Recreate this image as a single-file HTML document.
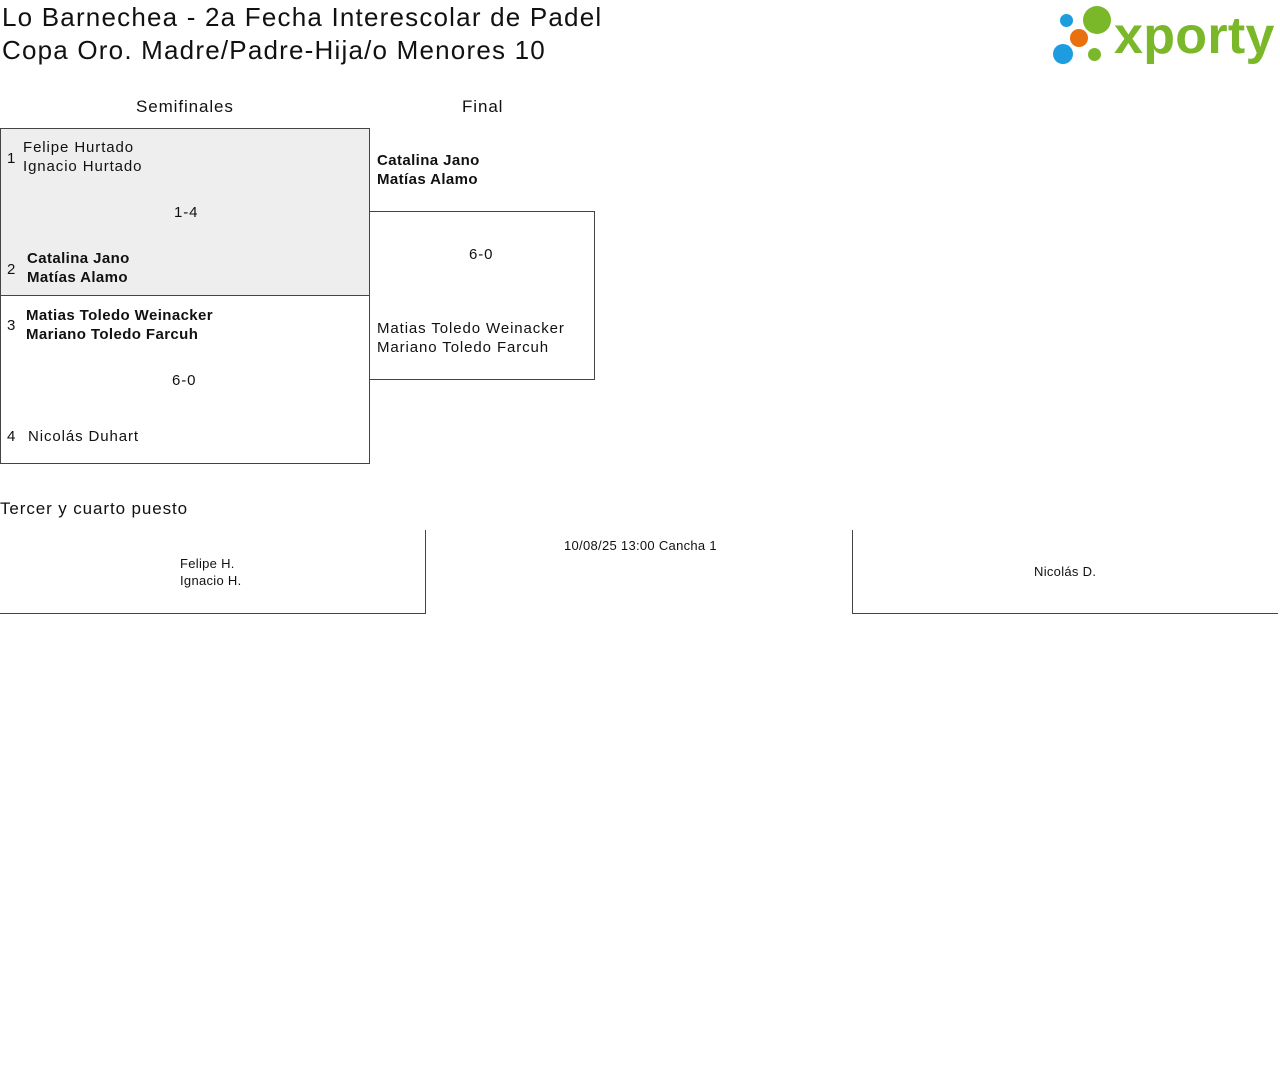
<!DOCTYPE html>
<html><head><meta charset="utf-8"><style>
body{margin:0;width:1280px;height:1078px;background:#fff;font-family:"Liberation Sans",sans-serif;color:#111;position:relative;overflow:hidden}
div{position:absolute;box-sizing:border-box}
.t{font-size:26px;letter-spacing:1.2px;line-height:33px}
.h{font-size:17px;letter-spacing:0.9px}
.n{font-size:15px;line-height:19px;letter-spacing:0.9px}
.b{font-weight:bold;letter-spacing:0.4px}
.s{font-size:13px;letter-spacing:0.3px}
</style></head><body>
<div class="t" style="left:2px;top:1px;white-space:nowrap">Lo Barnechea - 2a Fecha Interescolar de Padel<br>Copa Oro. Madre/Padre-Hija/o Menores 10</div>
<div style="left:1060px;top:14px;width:13px;height:13px;border-radius:50%;background:#1d9de0"></div>
<div style="left:1083px;top:6px;width:28px;height:28px;border-radius:50%;background:#7ab82a"></div>
<div style="left:1070px;top:29px;width:18px;height:18px;border-radius:50%;background:#e8700e"></div>
<div style="left:1053px;top:44px;width:20px;height:20px;border-radius:50%;background:#1d9de0"></div>
<div style="left:1088px;top:48px;width:13px;height:13px;border-radius:50%;background:#7ab82a"></div>
<div style="left:1114px;top:6px;font-size:52px;font-weight:bold;color:#7ab82a;letter-spacing:0.3px;line-height:60px">xporty</div>

<div class="h" style="left:136px;top:97px">Semifinales</div>
<div class="h" style="left:462px;top:97px">Final</div>

<div style="left:0;top:128px;width:370px;height:168px;background:#eee;border:1px solid #444"></div>
<div style="left:0;top:295px;width:370px;height:169px;border:1px solid #444"></div>
<div class="n" style="left:7px;top:149px">1</div>
<div class="n" style="left:23px;top:138px">Felipe Hurtado<br>Ignacio Hurtado</div>
<div class="n" style="left:174px;top:203px">1-4</div>
<div class="n" style="left:7px;top:260px">2</div>
<div class="n b" style="left:27px;top:249px">Catalina Jano<br>Matías Alamo</div>
<div class="n" style="left:7px;top:316px">3</div>
<div class="n b" style="left:26px;top:306px">Matias Toledo Weinacker<br>Mariano Toledo Farcuh</div>
<div class="n" style="left:172px;top:371px">6-0</div>
<div class="n" style="left:7px;top:427px">4</div>
<div class="n" style="left:28px;top:427px">Nicolás Duhart</div>

<div class="n b" style="left:377px;top:151px">Catalina Jano<br>Matías Alamo</div>
<div style="left:369px;top:211px;width:226px;height:169px;border:1px solid #444;border-left:none"></div>
<div class="n" style="left:469px;top:245px">6-0</div>
<div class="n" style="left:377px;top:319px">Matias Toledo Weinacker<br>Mariano Toledo Farcuh</div>

<div class="h" style="left:0;top:499px">Tercer y cuarto puesto</div>
<div style="left:0;top:530px;width:426px;height:84px;border-right:1px solid #444;border-bottom:1px solid #444"></div>
<div style="left:852px;top:530px;width:426px;height:84px;border-left:1px solid #444;border-bottom:1px solid #444"></div>
<div class="s" style="left:180px;top:555px;line-height:17px">Felipe H.<br>Ignacio H.</div>
<div class="s" style="left:564px;top:538px">10/08/25 13:00 Cancha 1</div>
<div class="s" style="left:1034px;top:564px">Nicolás D.</div>
</body></html>
